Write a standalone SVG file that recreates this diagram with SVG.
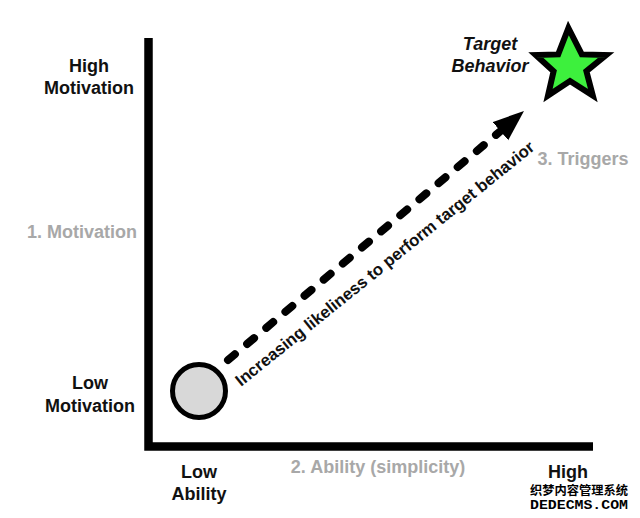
<svg xmlns="http://www.w3.org/2000/svg" width="640" height="518" viewBox="0 0 640 518">
<style>
.lbl{font-family:"Liberation Sans",Arial,sans-serif;font-weight:bold;font-size:18px;fill:#111;text-anchor:middle}
.gray{fill:#a8a8a8}
.axis{stroke:#000;stroke-width:8.5;fill:none;stroke-linejoin:miter}
</style>
<defs>
<marker id="ah" markerUnits="userSpaceOnUse" markerWidth="34" markerHeight="26" refX="31" refY="12" orient="auto">
<path d="M0,0 L31,12 L0,24 Z" fill="#000"/>
</marker>
</defs>
<rect width="640" height="518" fill="#fff"/>
<g id="axes">
<path class="axis" d="M148.5,38 V446.5 H593"/>
</g>
<g id="connectors">
<path d="M228,360 L500,131.5" stroke="#000" stroke-width="8" stroke-linecap="round" stroke-dasharray="9 16" fill="none"/>
<path d="M500,131.5 L524,111" stroke="none" fill="none" marker-end="url(#ah)"/>
</g>
<g id="start-node">
<circle cx="199" cy="391" r="26.5" fill="#d8d8d8" stroke="#000" stroke-width="5"/>
</g>
<g id="target-node">
<polygon points="568.4,28 581.8,54.4 606.2,55 586.4,71.2 592.8,95.6 570,81 548,95.5 553.6,71.2 535.8,55 558.2,54.4" fill="#3df03d" stroke="#000" stroke-width="6" stroke-linejoin="miter" stroke-miterlimit="10"/>
<text class="lbl" x="490" y="50" font-style="italic">Target</text>
<text class="lbl" x="490" y="72" font-style="italic">Behavior</text>
</g>
<g id="labels">
<text class="lbl" x="89" y="72">High</text>
<text class="lbl" x="89" y="94">Motivation</text>
<text class="lbl gray" x="137" y="238" style="text-anchor:end">1. Motivation</text>
<text class="lbl" x="90" y="389">Low</text>
<text class="lbl" x="90" y="412">Motivation</text>
<text class="lbl" x="199" y="478">Low</text>
<text class="lbl" x="199" y="500">Ability</text>
<text class="lbl gray" x="378" y="473">2. Ability (simplicity)</text>
<text class="lbl" x="568" y="478">High</text>
<text class="lbl gray" x="583" y="165">3. Triggers</text>
<text class="lbl" x="0" y="0" style="text-anchor:start;font-size:16.8px" transform="translate(241,387) rotate(-38.9)">Increasing likeliness to perform target behavior</text>
</g>
<g id="watermark">
<text x="530" y="495" font-family="'Noto Sans CJK SC',sans-serif" font-weight="bold" font-size="12" fill="#000" stroke="#fff" stroke-width="0.6" paint-order="stroke" textLength="98" lengthAdjust="spacingAndGlyphs">织梦内容管理系统</text>
<text x="530" y="508.5" font-family="'Liberation Mono',monospace" font-weight="bold" font-size="12.5" fill="#000" textLength="98" lengthAdjust="spacingAndGlyphs">DEDECMS.COM</text>
</g>
</svg>
